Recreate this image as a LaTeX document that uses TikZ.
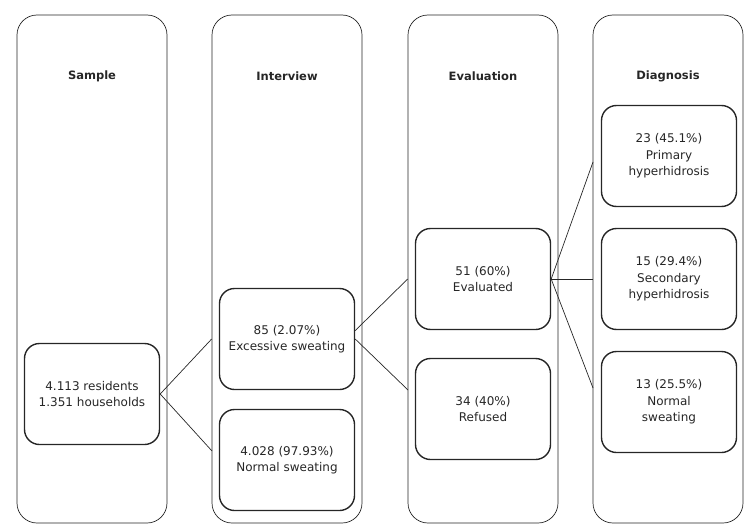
\documentclass[tikz,border=0pt]{standalone}
\usepackage{fontspec}
\setmainfont{DejaVu Sans}

\begin{document}
\begin{tikzpicture}[x=1pt, y=-1pt, line width=0.7pt, draw=black!85, text=black!85,
    column/.style={draw, rounded corners=20pt, minimum width=150pt, minimum height=508pt},
    stage/.style={draw, line width=1.4pt, rounded corners=15pt, minimum width=135pt,
        minimum height=101pt, align=center, font=\fontsize{12}{16.5}\selectfont},
    heading/.style={font=\bfseries\fontsize{11.5}{15}\selectfont}]
    \useasboundingbox (0,0) rectangle (752,527);

    % columns
    \node[column] (colSample) at (92,269) {};
    \node[column] (colInterview) at (287,269) {};
    \node[column] (colEval) at (483,269) {};
    \node[column] (colDiag) at (668,269) {};

    \node[heading] (hSample) at (92,76) {Sample};
    \node[heading] (hInterview) at (287,76) {Interview};
    \node[heading] (hEval) at (483,76) {Evaluation};
    \node[heading] (hDiag) at (668,76) {Diagnosis};

    % boxes
    \node[stage] (sample) at (92,394) {4.113 residents\\1.351 households};
    \node[stage] (excess) at (287,339) {85 (2.07\%)\\Excessive sweating};
    \node[stage] (normal) at (287,460) {4.028 (97.93\%)\\Normal sweating};
    \node[stage] (evaluated) at (483,279) {51 (60\%)\\Evaluated};
    \node[stage] (refused) at (483,409) {34 (40\%)\\Refused};
    \node[stage] (primary) at (669,156) {23 (45.1\%)\\Primary\\hyperhidrosis};
    \node[stage] (secondary) at (669,279) {15 (29.4\%)\\Secondary\\hyperhidrosis};
    \node[stage] (normalD) at (669,402) {13 (25.5\%)\\Normal\\sweating};

    \coordinate (inNormal) at (212,451);
    \coordinate (inRefused) at (408,390);
    \coordinate (inPrimary) at (593,162);
    \coordinate (inNormalD) at (593,388);

    \draw (sample.east) -- (colInterview.west |- excess);
    \draw (sample.east) -- (inNormal);
    \draw (excess.7) -- (colEval.west |- evaluated);
    \draw (excess.east) -- (inRefused);
    \draw (evaluated.east) -- (inPrimary);
    \draw (evaluated.east) -- (colDiag.west |- secondary);
    \draw (evaluated.east) -- (inNormalD);
\end{tikzpicture}
\end{document}
